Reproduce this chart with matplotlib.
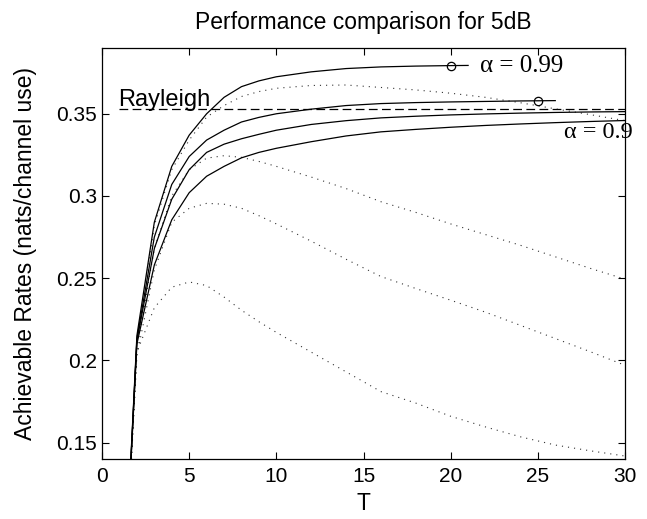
import matplotlib
matplotlib.use('Agg')
from matplotlib import pyplot as plt

# block length T and achievable rates
t_s1 = [1, 2, 3, 4, 5, 6, 7, 8, 9, 10, 12, 14, 16, 18, 20, 21]
s1 = [0.0, 0.215, 0.284, 0.318, 0.337, 0.350, 0.360, 0.3665, 0.370, 0.3725,
      0.3755, 0.3775, 0.3785, 0.3790, 0.3793, 0.3794]

t_s2 = [1, 2, 3, 4, 5, 6, 7, 8, 9, 10, 12, 14, 16, 18, 20, 22, 24, 25, 26]
s2 = [0.0, 0.213, 0.275, 0.307, 0.324, 0.334, 0.340, 0.345, 0.3478, 0.350,
      0.3528, 0.355, 0.3562, 0.3568, 0.3572, 0.3575, 0.3578, 0.3579, 0.358]

t_long = [1, 2, 3, 4, 5, 6, 7, 8, 9, 10, 12, 14, 16, 18, 20, 22, 24, 26, 28, 30]
s3 = [0.0, 0.212, 0.268, 0.298, 0.316, 0.3265, 0.3315, 0.3348, 0.3375, 0.340,
      0.3435, 0.3458, 0.3475, 0.3485, 0.3493, 0.3499, 0.3504, 0.3508, 0.3511, 0.3513]
s4 = [0.0, 0.210, 0.258, 0.2855, 0.302, 0.312, 0.318, 0.3232, 0.3265, 0.329,
      0.333, 0.3365, 0.339, 0.3405, 0.3418, 0.3429, 0.3438, 0.3446, 0.3453, 0.3459]

d1 = [0.0, 0.210, 0.282, 0.316, 0.334, 0.348, 0.355, 0.3605, 0.3635, 0.3655,
      0.3672, 0.3675, 0.366, 0.3645, 0.3625, 0.360, 0.3567, 0.353, 0.3495, 0.3458]
d2 = [0.0, 0.207, 0.268, 0.300, 0.316, 0.323, 0.3245, 0.3235, 0.321, 0.318,
      0.3115, 0.3045, 0.2965, 0.290, 0.283, 0.2765, 0.270, 0.263, 0.256, 0.2494]
d3 = [0.0, 0.203, 0.255, 0.284, 0.2925, 0.2955, 0.295, 0.2925, 0.288, 0.283,
      0.2725, 0.2615, 0.251, 0.2437, 0.2366, 0.2293, 0.2213, 0.2133, 0.2053, 0.197]
d4 = [0.0, 0.205, 0.232, 0.2445, 0.2477, 0.2455, 0.2385, 0.2305, 0.2235, 0.217,
      0.205, 0.193, 0.181, 0.174, 0.166, 0.1595, 0.1535, 0.1485, 0.145, 0.1418]

rayleigh = 0.353

opt_t = [20, 25]
opt_rate = [0.3793, 0.3579]

yticks = [0.15, 0.2, 0.25, 0.3, 0.35]
ytick_labels = ['0.15', '0.2', '0.25', '0.3', '0.35']

plt.rcParams['font.family'] = ['Liberation Sans', 'DejaVu Sans']

fig = plt.figure(figsize=(6.47, 5.19), dpi=100)
ax = fig.add_axes([0.1577, 0.1156, 0.8083, 0.7919])

dots = (0, (1, 4.5))
for d in (d1, d2, d3, d4):
    ax.plot(t_long, d, color='#333333', lw=0.8, linestyle=dots)

ax.plot(t_s1, s1, color='black', lw=0.9)
ax.plot(t_s2, s2, color='black', lw=0.9)
ax.plot(t_long, s3, color='black', lw=0.9)
ax.plot(t_long, s4, color='black', lw=0.9)

ax.plot([1, 30], [rayleigh, rayleigh], color='black', lw=0.9,
        linestyle=(0, (7, 3.5)))
ax.plot(opt_t, opt_rate, linestyle='none', marker='o', markersize=6,
        markerfacecolor='none', markeredgecolor='black', markeredgewidth=0.9)

ax.text(0.9, 0.3548, 'Rayleigh', fontsize=17)
ax.text(21.7, 0.3792, 'α = 0.99', family=['Liberation Serif', 'DejaVu Serif'],
        fontsize=18, va='center')
ax.text(26.5, 0.3384, 'α = 0.9', family=['Liberation Serif', 'DejaVu Serif'],
        fontsize=17.5, va='center', clip_on=False)

ax.set_xlim(0, 30)
ax.set_ylim(0.14, 0.39)
ax.set_xticks(range(0, 31, 5))
ax.set_yticks(yticks)
ax.set_yticklabels(ytick_labels)
ax.tick_params(direction='in', length=5, width=0.8, top=True, right=True,
               labelsize=15)
ax.tick_params(axis='x', pad=6)
for sp in ax.spines.values():
    sp.set_linewidth(0.9)

ax.set_xlabel('T', fontsize=16.5, labelpad=4)
ax.set_ylabel('Achievable Rates (nats/channel use)', fontsize=16.5, labelpad=14)
ax.set_title('Performance comparison for 5dB', fontsize=16.5, pad=14)

fig.savefig('out.png', dpi=100)
